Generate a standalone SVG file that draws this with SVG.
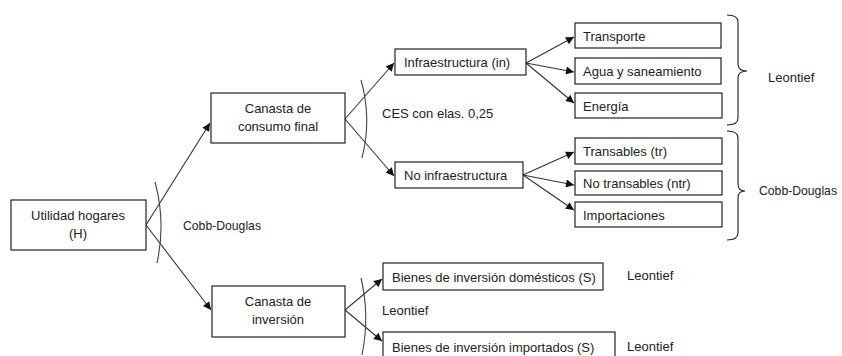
<svg xmlns="http://www.w3.org/2000/svg" width="842" height="356" viewBox="0 0 842 356">
<defs>
<style>
.box{fill:#fff;stroke:#222;stroke-width:1.2}
.t{font-family:"Liberation Sans",Arial,sans-serif;font-size:13px;fill:#222}
.c{text-anchor:middle}
.ln{stroke:#333;stroke-width:1.1;fill:none}
.arc{stroke:#444;stroke-width:1.1;fill:none}
.br{stroke:#222;stroke-width:1.1;fill:none}
</style>
<marker id="ah" viewBox="0 0 10 10" refX="10" refY="5" markerWidth="9" markerHeight="8" markerUnits="userSpaceOnUse" orient="auto">
<path d="M0,0 L10,5 L0,10 Z" fill="#111"/>
</marker>
</defs>
<rect width="842" height="356" fill="#fff"/>

<g id="connectors">
<path class="ln" d="M146,225 L210,123" marker-end="url(#ah)"/>
<path class="ln" d="M146,225 L211,310" marker-end="url(#ah)"/>
<path class="ln" d="M345,119 L394,63" marker-end="url(#ah)"/>
<path class="ln" d="M345,119 L394,176" marker-end="url(#ah)"/>
<path class="ln" d="M526,63 L574,37" marker-end="url(#ah)"/>
<path class="ln" d="M526,63 L574,72" marker-end="url(#ah)"/>
<path class="ln" d="M526,63 L574,103" marker-end="url(#ah)"/>
<path class="ln" d="M523,175 L574,152" marker-end="url(#ah)"/>
<path class="ln" d="M523,175 L574,185" marker-end="url(#ah)"/>
<path class="ln" d="M523,175 L574,210" marker-end="url(#ah)"/>
<path class="ln" d="M345,310 L382,279" marker-end="url(#ah)"/>
<path class="ln" d="M345,310 L382,341" marker-end="url(#ah)"/>
<path class="arc" d="M155,182 Q166,222 157,263"/>
<path class="arc" d="M361,80 Q372,119 362,158"/>
<path class="arc" d="M361,278 Q370,316 362,355"/>
<path class="br" d="M727,15 Q738,15 738,22 L738,64 Q738,71 747,71 Q738,71 738,78 L738,118 Q738,125 727,125"/>
<path class="br" d="M727,131 Q738,131 738,138 L738,184 Q738,191 745,191 Q738,191 738,198 L738,233 Q738,240 727,240"/>
</g>

<g id="n-utilidad">
<rect class="box" x="11" y="200" width="135" height="50"/>
<text class="t c" x="78" y="220">Utilidad hogares</text>
<text class="t c" x="78" y="238">(H)</text>
</g>
<g id="n-consumo">
<rect class="box" x="211" y="93" width="134" height="50"/>
<text class="t c" x="278" y="113">Canasta de</text>
<text class="t c" x="278" y="131">consumo final</text>
</g>
<g id="n-inversion">
<rect class="box" x="212" y="286" width="133" height="51"/>
<text class="t c" x="278" y="306">Canasta de</text>
<text class="t c" x="278" y="324">inversión</text>
</g>
<g id="n-infra">
<rect class="box" x="395" y="49" width="131" height="26"/>
<text class="t" x="404" y="67">Infraestructura (in)</text>
</g>
<g id="n-noinfra">
<rect class="box" x="395" y="162" width="128" height="26"/>
<text class="t" x="404" y="180">No infraestructura</text>
</g>
<g id="n-transporte">
<rect class="box" x="575" y="23" width="146" height="25"/>
<text class="t" x="583" y="41">Transporte</text>
</g>
<g id="n-agua">
<rect class="box" x="575" y="58" width="146" height="26"/>
<text class="t" x="583" y="76">Agua y saneamiento</text>
</g>
<g id="n-energia">
<rect class="box" x="575" y="93" width="147" height="25"/>
<text class="t" x="583" y="111">Energía</text>
</g>
<g id="n-transables">
<rect class="box" x="575" y="138" width="147" height="26"/>
<text class="t" x="583" y="156">Transables (tr)</text>
</g>
<g id="n-notransables">
<rect class="box" x="575" y="171" width="147" height="24"/>
<text class="t" x="583" y="188">No transables (ntr)</text>
</g>
<g id="n-importaciones">
<rect class="box" x="575" y="202" width="147" height="25"/>
<text class="t" x="583" y="220">Importaciones</text>
</g>
<g id="n-bienesdom">
<rect class="box" x="383" y="263" width="220" height="27"/>
<text class="t" x="392" y="282">Bienes de inversión domésticos (S)</text>
</g>
<g id="n-bienesimp">
<rect class="box" x="383" y="332" width="232" height="30"/>
<text class="t" x="392" y="352">Bienes de inversión importados (S)</text>
</g>

<g id="labels">
<text class="t" x="183" y="230" textLength="78" lengthAdjust="spacingAndGlyphs">Cobb-Douglas</text>
<text class="t" x="382" y="118">CES con elas. 0,25</text>
<text class="t" x="768" y="82">Leontief</text>
<text class="t" x="759" y="195" textLength="78" lengthAdjust="spacingAndGlyphs">Cobb-Douglas</text>
<text class="t" x="627" y="280">Leontief</text>
<text class="t" x="382" y="315">Leontief</text>
<text class="t" x="627" y="351">Leontief</text>
</g>
</svg>
